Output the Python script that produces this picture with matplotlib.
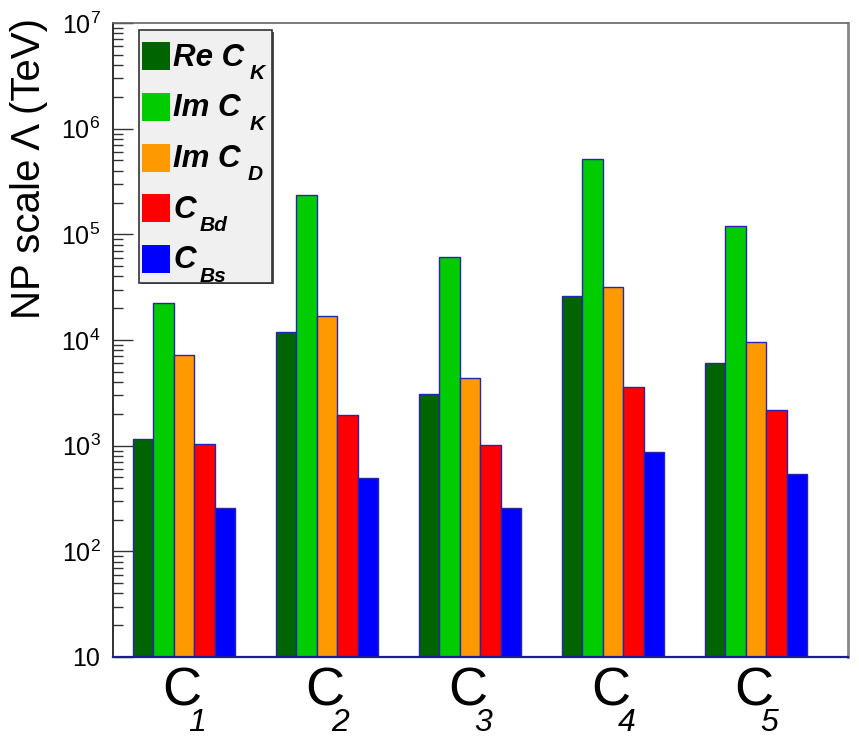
import matplotlib
matplotlib.use("Agg")
import matplotlib.pyplot as plt
import matplotlib.transforms as mtransforms
from matplotlib.patches import Rectangle
from matplotlib.ticker import FixedLocator, LogLocator, NullFormatter
import numpy as np

# ---------------- data ----------------
cat_main = "C"
cat_sub = ["1", "2", "3", "4", "5"]

legend_main = ["Re C", "Im C", "Im C", "C", "C"]
legend_sub = ["K", "K", "D", "Bd", "Bs"]

re_ck = [1160, 11900, 3100, 26300, 6000]
im_ck = [22200, 234000, 60500, 514000, 119000]
im_cd = [7200, 16800, 4400, 31900, 9500]
c_bd = [1040, 1970, 1020, 3600, 2160]
c_bs = [255, 495, 257, 880, 540]

ytick_values = [10, 1e2, 1e3, 1e4, 1e5, 1e6, 1e7]
ytick_labels = ["10", r"$10^{2}$", r"$10^{3}$", r"$10^{4}$", r"$10^{5}$", r"$10^{6}$", r"$10^{7}$"]
ylabel = "NP scale Λ (TeV)"

series = [re_ck, im_ck, im_cd, c_bd, c_bs]
colors = ["#006400", "#00cc00", "#ff9900", "#ff0000", "#0000ff"]

# ---------------- style ----------------
plt.rcParams["font.family"] = ["Liberation Sans", "DejaVu Sans"]
plt.rcParams["mathtext.fontset"] = "custom"
plt.rcParams["mathtext.rm"] = "Liberation Sans"
plt.rcParams["mathtext.it"] = "Liberation Sans:italic"
plt.rcParams["mathtext.bf"] = "Liberation Sans:bold"

W, H = 859, 744
fig = plt.figure(figsize=(W / 100, H / 100), dpi=100)
fig.patch.set_facecolor("white")

def fx(px):
    return px / W

def fy(py):
    return 1 - py / H

ax_l, ax_r, ax_t, ax_b = 113, 848, 23, 657
ax = fig.add_axes([fx(ax_l), fy(ax_b), (ax_r - ax_l) / W, (ax_b - ax_t) / H])

bin_w = 143.0
xmax = (ax_r - ax_l) / bin_w
offset = 0.138
bar_w = 0.1435

n = len(cat_sub)
idx = np.arange(n)
for j, vals in enumerate(series):
    ax.bar(idx + offset + j * bar_w, vals, width=bar_w, align="edge",
           color=colors[j], edgecolor="#2525b0", linewidth=1.0, zorder=2)

ax.set_yscale("log")
ax.set_ylim(10, 1e7)
ax.set_xlim(0, xmax)

ax.yaxis.set_major_locator(FixedLocator(ytick_values))
ax.set_yticklabels(ytick_labels)
ax.yaxis.set_minor_locator(LogLocator(base=10, subs=np.arange(2, 10)))
ax.yaxis.set_minor_formatter(NullFormatter())
ax.tick_params(axis="y", which="major", direction="in", length=14.4, width=1.0,
               labelsize=18, pad=9, right=False, color="#333333")
ax.tick_params(axis="y", which="minor", direction="in", length=7.2, width=1.0,
               right=False, color="#333333")
ax.tick_params(axis="x", which="both", length=0, labelbottom=False)

ax.spines["left"].set_color("#222222")
ax.spines["left"].set_linewidth(1.3)
ax.spines["bottom"].set_color("#1a1a9a")
ax.spines["bottom"].set_linewidth(1.6)
ax.spines["bottom"].set_zorder(3)
ax.spines["top"].set_color("#666666")
ax.spines["top"].set_linewidth(1.2)
ax.spines["right"].set_color("#888888")
ax.spines["right"].set_linewidth(2.0)

# x category labels
blend = mtransforms.blended_transform_factory(ax.transData, fig.transFigure)
for i, s in enumerate(cat_sub):
    c = i + 0.5
    t1 = blend + mtransforms.ScaledTranslation(-3 / 100, 0, fig.dpi_scale_trans)
    ax.text(c, fy(706), cat_main, transform=t1, ha="center", va="baseline",
            fontsize=39, color="black")
    t2 = blend + mtransforms.ScaledTranslation(13 / 100, 0, fig.dpi_scale_trans)
    ax.text(c, fy(731), s, transform=t2, ha="center", va="baseline",
            fontsize=23, style="italic", color="black")

# y label
fig.text(fx(29), fy(18), ylabel, rotation=90, ha="center", va="top", fontsize=29)

# legend (drawn manually to mimic ROOT TLegend)
fig.patches.append(Rectangle((fx(141), fy(284.5)), fx(274) - fx(141), fy(32) - fy(284.5),
                             transform=fig.transFigure, facecolor="#555555",
                             edgecolor="none", zorder=4))
fig.patches.append(Rectangle((fx(139), fy(283)), fx(272) - fx(139), fy(30) - fy(283),
                             transform=fig.transFigure, facecolor="#f0f0f0",
                             edgecolor="#333333", linewidth=1.2, zorder=5))
sub_x = [250, 250, 248, 200, 200]
for k in range(len(series)):
    cy = 56 + k * 50.75
    fig.patches.append(Rectangle((fx(142), fy(cy + 14)), fx(170) - fx(142), 28 / H,
                                 transform=fig.transFigure, facecolor=colors[k],
                                 edgecolor="none", zorder=6))
    fig.text(fx(173), fy(cy + 9.5), legend_main[k], fontsize=22.5, fontweight="bold",
             style="italic", ha="left", va="baseline", zorder=7)
    fig.text(fx(sub_x[k]), fy(cy + 23), legend_sub[k], fontsize=15, fontweight="bold",
             style="italic", ha="left", va="baseline", zorder=7)

fig.savefig("out.png", dpi=100)
